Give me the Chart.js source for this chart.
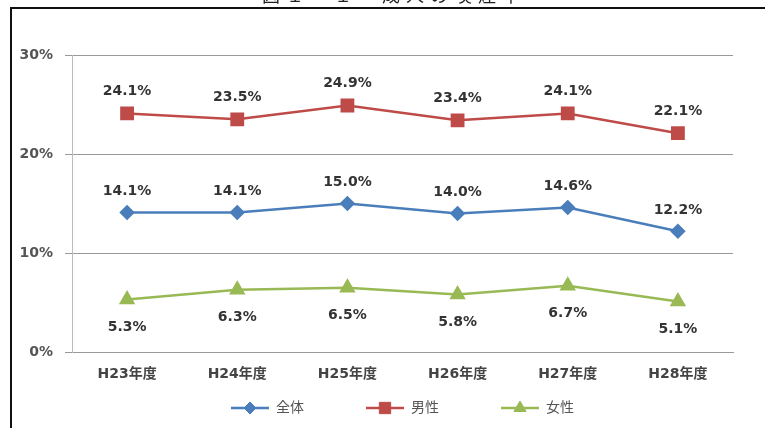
<!DOCTYPE html>
<html>
<head>
<meta charset="utf-8">
<script src="https://cdn.jsdelivr.net/npm/chart.js@4/dist/chart.umd.min.js"></script>
<style>
  body { margin: 0; background: #fff; overflow: hidden; }
  #wrap { position: relative; width: 765px; height: 428px; overflow: hidden; }
  #grafico { position: absolute; left: 0; top: 0; }
  #titulo { position: absolute; left: 262px; top: -15px; font: 18px 'Noto Sans CJK JP', sans-serif; line-height: 18px; color: #222; letter-spacing: 6px; }
  #moldura { position: absolute; left: 10px; top: 7px; width: 753px; height: 419px; border-top: 2px solid #111; border-left: 2px solid #111; pointer-events: none; }
</style>
</head>
<body>
<div id="wrap">
  <canvas id="grafico" width="765" height="428"></canvas>
  <div id="titulo">図１－１　成人の喫煙率</div>
  <div id="moldura"></div>
</div>
<script>
// dados do gráfico
const anos = ['H23年度', 'H24年度', 'H25年度', 'H26年度', 'H27年度', 'H28年度'];
const series = ['全体', '男性', '女性'];
const total = [14.1, 14.1, 15.0, 14.0, 14.6, 12.2];
const homens = [24.1, 23.5, 24.9, 23.4, 24.1, 22.1];
const mulheres = [5.3, 6.3, 6.5, 5.8, 6.7, 5.1];
const ticksY = [0, 10, 20, 30];

const fonte = "'DejaVu Sans', 'Noto Sans CJK JP', sans-serif";

// rótulos de dados (acima ou abaixo do ponto)
const rotulos = {
  id: 'rotulos',
  afterDatasetsDraw(chart) {
    const ctx = chart.ctx;
    ctx.save();
    ctx.font = 'bold 14px ' + fonte;
    ctx.fillStyle = '#333';
    ctx.textAlign = 'center';
    ctx.textBaseline = 'middle';
    chart.data.datasets.forEach((ds, i) => {
      const meta = chart.getDatasetMeta(i);
      meta.data.forEach((p, j) => {
        ctx.fillText(ds.data[j].toFixed(1) + '%', p.x, p.y + ds.deslocRotulo);
      });
    });
    ctx.restore();
  }
};

// legenda com linha + marcador, como no Excel
const legenda = {
  id: 'legenda',
  afterDraw(chart) {
    const ctx = chart.ctx;
    const area = chart.chartArea;
    const y = 408;
    const linha = 38, gap = 7, espaco = 62;
    ctx.save();
    ctx.font = '14px ' + fonte;
    const larguras = chart.data.datasets.map(ds => linha + gap + ctx.measureText(ds.label).width);
    const totalW = larguras.reduce((a, b) => a + b, 0) + espaco * (larguras.length - 1);
    let x = (area.left + area.right) / 2 - totalW / 2;
    chart.data.datasets.forEach((ds, i) => {
      ctx.strokeStyle = ds.borderColor;
      ctx.lineWidth = 2.5;
      ctx.beginPath();
      ctx.moveTo(x, y);
      ctx.lineTo(x + linha, y);
      ctx.stroke();
      ctx.fillStyle = ds.pointBackgroundColor;
      ctx.strokeStyle = ds.borderColor;
      ctx.lineWidth = 1;
      Chart.helpers.drawPoint(ctx, { pointStyle: ds.pointStyle, radius: ds.pointRadius, borderWidth: 1 }, x + linha / 2, y);
      ctx.fillStyle = '#555';
      ctx.textAlign = 'left';
      ctx.textBaseline = 'middle';
      ctx.fillText(ds.label, x + linha + gap, y);
      x += larguras[i] + espaco;
    });
    ctx.restore();
  }
};

const ctx = document.getElementById('grafico').getContext('2d');
new Chart(ctx, {
  type: 'line',
  data: {
    labels: anos,
    datasets: [
      {
        label: series[0],
        data: total,
        borderColor: '#4a7ebb',
        backgroundColor: '#4a7ebb',
        pointBackgroundColor: '#4a7ebb',
        pointBorderColor: '#4a7ebb',
        pointStyle: 'rectRot',
        pointRadius: 6,
        borderWidth: 2.5,
        deslocRotulo: -21
      },
      {
        label: series[1],
        data: homens,
        borderColor: '#be4b48',
        backgroundColor: '#be4b48',
        pointBackgroundColor: '#be4b48',
        pointBorderColor: '#be4b48',
        pointStyle: 'rect',
        pointRadius: 8,
        borderWidth: 2.5,
        deslocRotulo: -22
      },
      {
        label: series[2],
        data: mulheres,
        borderColor: '#98b954',
        backgroundColor: '#98b954',
        pointBackgroundColor: '#98b954',
        pointBorderColor: '#98b954',
        pointStyle: 'triangle',
        pointRadius: 7,
        borderWidth: 2.5,
        deslocRotulo: 28
      }
    ]
  },
  options: {
    responsive: false,
    animation: false,
    layout: {
      padding: { left: 0, right: 32, top: 55, bottom: 36 }
    },
    plugins: {
      legend: { display: false },
      tooltip: { enabled: false }
    },
    scales: {
      x: {
        offset: true,
        grid: { display: false, drawTicks: false, offset: true },
        border: { display: true, color: '#999', width: 1 },
        ticks: {
          color: '#444',
          padding: 14,
          font: { family: fonte, size: 14, weight: 'bold' }
        },
        afterFit(scale) { scale.height = 40; }
      },
      y: {
        min: 0,
        max: 30,
        afterBuildTicks(scale) { scale.ticks = ticksY.map(v => ({ value: v })); },
        grid: { color: '#999', tickLength: 7 },
        border: { display: true, color: '#bbb' },
        ticks: {
          color: '#555',
          padding: 12,
          font: { family: fonte, size: 14, weight: 'bold' },
          callback: v => v + '%'
        },
        afterFit(scale) { scale.width = 72; }
      }
    }
  },
  plugins: [rotulos, legenda]
});
</script>
</body>
</html>
